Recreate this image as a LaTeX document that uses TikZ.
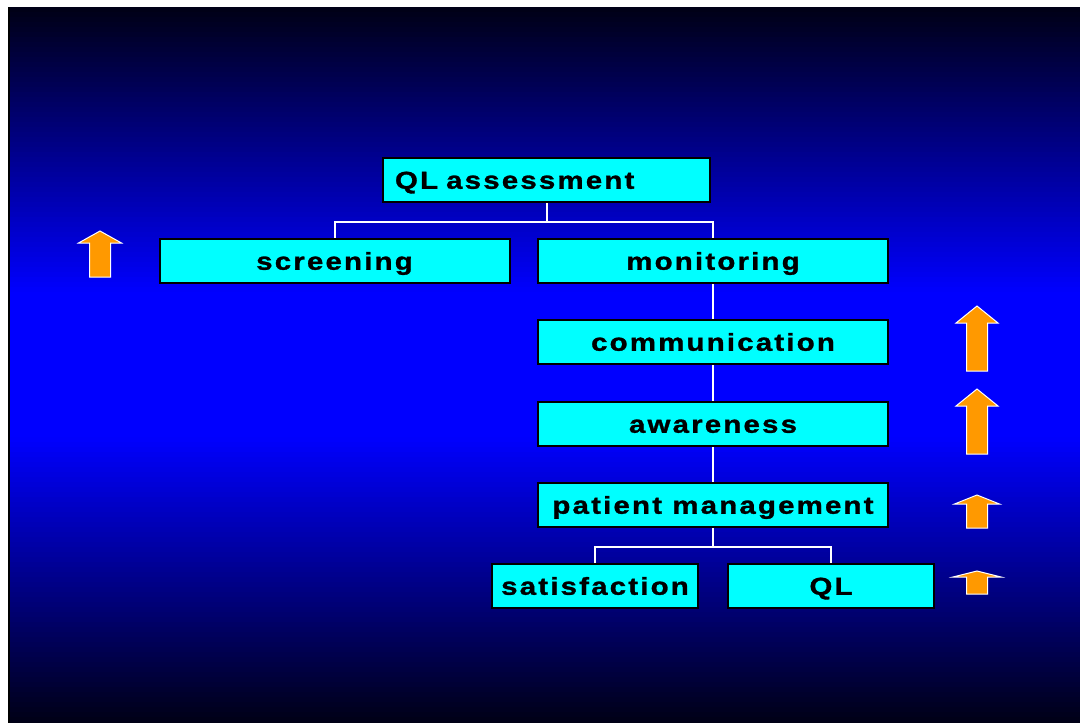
\documentclass[tikz,border=0pt]{standalone}
\usepackage{fontspec}
\usepackage{tikz}
\newfontfamily\boxfont{Liberation Sans}[FakeStretch=1.2, LetterSpace=9, FakeBold=1.2]

\definecolor{slidedark}{HTML}{000015}
\definecolor{slideblue}{HTML}{0000FF}
\definecolor{boxcyan}{HTML}{00FFFF}
\definecolor{arroworange}{HTML}{FF9900}

\tikzset{
    box/.style={draw=black, line width=2pt, fill=boxcyan, minimum height=44pt,
        inner sep=0pt, text height=17.5pt, text depth=0pt,
        font=\boxfont\bfseries\fontsize{24.5}{28}\selectfont},
    wide/.style={box, minimum width=350pt},
    narrow/.style={box, minimum width=206pt},
    link/.style={draw=white, line width=2pt},
}

\begin{document}
\begin{tikzpicture}
    [
        x=1pt, y=-1pt,
    ]
    
    \useasboundingbox (0, 0) rectangle (1080, 723);
    % background, dark - blue - dark
    \foreach \i in {0,...,143} {
        \pgfmathsetmacro\pct{max(0, min(100, 125*(1 - abs(7 + 5*\i + 2.5 - 365)/358)))}
        \fill [slideblue!\pct!slidedark] (8, 7 + 5*\i) rectangle (1080, 12.6 + 5*\i);
    }
    \draw [line width=2pt, black] (9, 7) -- (9, 723);
    
    % boxes
    \node [box, text width=303pt, inner xsep=12pt, align=left] (qla) at (546.5, 180) {QL assessment};
    \node [wide] (scr) at (334.5, 261) {screening};
    \node [wide] (mon) at (713, 261) {monitoring};
    \node [wide] (com) at (713, 342) {communication};
    \node [wide] (awa) at (713, 424) {awareness};
    \node [wide] (pm) at (713, 505) {patient management};
    \node [narrow] (sat) at (595, 586) {satisfaction};
    \node [narrow] (ql) at (831, 586) {QL};
    
    % links
    \draw [link] (qla.south) -- ++(0, 19) -| (scr.north);
    \draw [link] (qla.south) -- ++(0, 19) -| (mon.north);
    \draw [link] (mon) -- (com);
    \draw [link] (com) -- (awa);
    \draw [link] (awa) -- (pm);
    \draw [link] (pm.south) -- ++(0, 19) -| (sat.north);
    \draw [link] (pm.south) -- ++(0, 19) -| (ql.north);
    
    % arrows
    \foreach \cx/\tip/\wing/\hw/\bot in
    {100/231/243/21.5/277, 977/306/323/21/371, 977/389/406/21/454,
     977/495/504/22.5/528, 977/571/577/24/594}
    {
        \filldraw [fill=arroworange, draw=white, line width=1pt, line join=miter]
            (\cx, \tip) -- (\cx + \hw, \wing) -- (\cx + 10.5, \wing)
            -- (\cx + 10.5, \bot) -- (\cx - 10.5, \bot) -- (\cx - 10.5, \wing)
            -- (\cx - \hw, \wing) -- cycle;
    }
    
    \end{tikzpicture}
\end{document}
